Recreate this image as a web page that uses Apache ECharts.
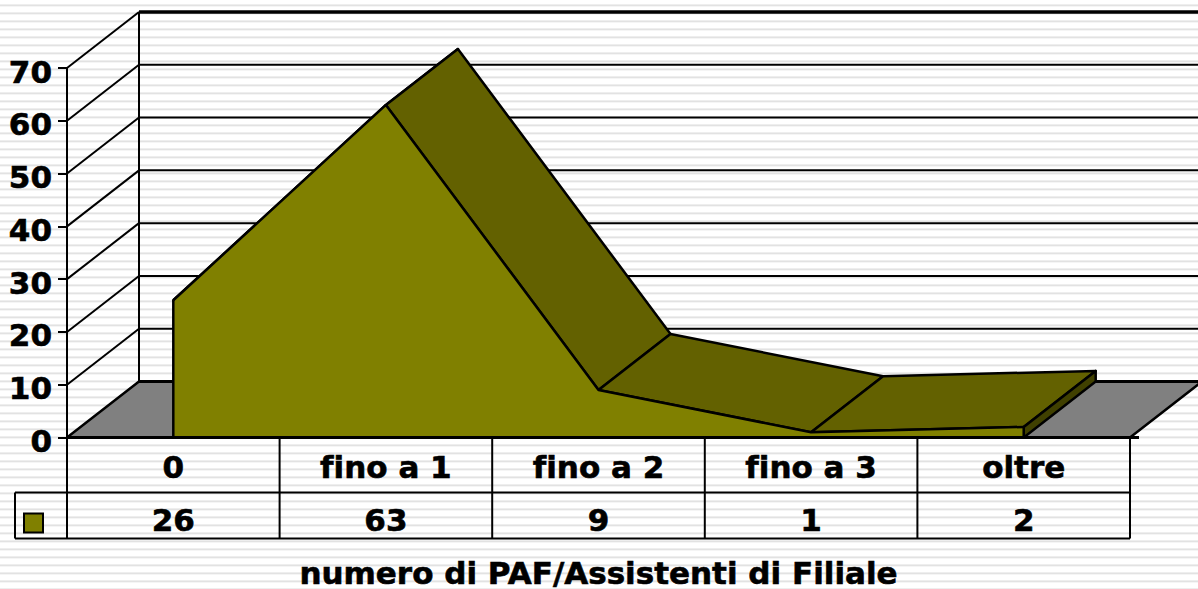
<!DOCTYPE html>
<html>
<head>
<meta charset="utf-8">
<title>numero di PAF/Assistenti di Filiale</title>
<style>
	html, body { margin: 0; padding: 0; width: 1198px; height: 589px; overflow: hidden; }
	/* sfondo a righe orizzontali */
	body { background: repeating-linear-gradient(to bottom, #fff 0, #fff 4px, #eee 4px, #eee 5px, #e2e2e2 5px, #e2e2e2 6px, #f5f5f5 6px, #f5f5f5 7px, #fff 7px, #fff 8px); }
	#chart { width: 1198px; height: 589px; }
	#chart text { font-variant-ligatures: none; }
</style>
<script src="https://cdn.jsdelivr.net/npm/echarts@6/dist/echarts.min.js"></script>
</head>
<body>
<div id="chart"></div>
<script>
var categories = ['0', 'fino a 1', 'fino a 2', 'fino a 3', 'oltre'];
var seriesValues = [26, 63, 9, 1, 2];
var yTicks = [0, 10, 20, 30, 40, 50, 60, 70];
var axisTitle = 'numero di PAF/Assistenti di Filiale';

var fontFamily = '"DejaVu Sans", Verdana, sans-serif';
var depthX = 72, depthY = -56;
var rowTop = 55, rowBottom = 101, legendLeft = 52;

// svg: i testi possono usare il css (niente legatura "fi")
var myChart = echarts.init(document.getElementById('chart'), null, { renderer: 'svg' });

var back = function(p){
	return [p[0] + depthX, p[1] + depthY];
};

var line = function(a, b, width){
	return {
		type: 'line',
		shape: { x1: a[0], y1: a[1], x2: b[0], y2: b[1] },
		style: { stroke: '#000', lineWidth: width || 2 }
	};
};

var poly = function(points, fill){
	return {
		type: 'polygon',
		shape: { points: points },
		style: { fill: fill, stroke: '#000', lineWidth: 2.5, lineJoin: 'round' }
	};
};

// pareti e pavimento dietro la serie
var renderWalls = function(params, api){
	var children = [];
	var band = api.size([1, 0])[0];
	var x0 = api.coord([0, 0])[0] - band / 2;
	var x1 = x0 + band * categories.length;
	var y0 = api.coord([0, 0])[1];
	children.push(poly([[x0, y0], back([x0, y0]), back([x1, y0]), [x1, y0]], '#808080'));
	yTicks.forEach(function(t){
		var y = api.coord([0, t])[1];
		if (t === 0) return;
		var w = t === yTicks[yTicks.length - 1] ? 3.5 : 2;
		children.push(line([x0, y], back([x0, y]), 2));
		children.push(line(back([x0, y]), [1198, y + depthY], w));
	});
	children.push(line(back([x0, y0]), back([x0, api.coord([0, yTicks[yTicks.length - 1]])[1]]), 2));
	children.push(line(back([x0, y0]), [1198, y0 + depthY], 3));
	return { type: 'group', children: children };
};

// fascia in profondita' tra un punto e il successivo
var renderDepth = function(params, api){
	var i = params.dataIndex;
	var p = api.coord([api.value(0), api.value(1)]);
	var children = [];
	if (i < seriesValues.length - 1) {
		var q = api.coord([i + 1, seriesValues[i + 1]]);
		children.push(poly([p, back(p), back(q), q], '#636100'));
	} else {
		var b = api.coord([i, 0]);
		children.push(poly([p, back(p), back(b), b], '#404000'));
	}
	return { type: 'group', children: children };
};

// bordi verticali del fronte
var renderEdges = function(params, api){
	var i = params.dataIndex;
	if (i !== 0 && i !== seriesValues.length - 1) return null;
	return line(api.coord([i, api.value(1)]), api.coord([i, 0]), 2.5);
};

// griglia della tabella dati e legenda
var renderTable = function(params, api){
	var children = [];
	var band = api.size([1, 0])[0];
	var x0 = api.coord([0, 0])[0] - band / 2;
	var x1 = x0 + band * categories.length;
	var y0 = api.coord([0, 0])[1];
	children.push(line([x0, y0], [x1 + 9, y0], 3));
	children.push(line([x0 - legendLeft, y0 + rowTop], [x1, y0 + rowTop], 2));
	children.push(line([x0 - legendLeft, y0 + rowBottom], [x1, y0 + rowBottom], 2));
	children.push(line([x0 - legendLeft, y0 + rowTop], [x0 - legendLeft, y0 + rowBottom], 2));
	for (var i = 0; i <= categories.length; i++) {
		children.push(line([x0 + band * i, y0], [x0 + band * i, y0 + rowBottom], 2));
	}
	children.push({
		type: 'rect',
		shape: { x: x0 - 43, y: y0 + 76, width: 19, height: 19 },
		style: { fill: '#808000', stroke: '#000', lineWidth: 2 }
	});
	return { type: 'group', children: children };
};

var pairs = seriesValues.map(function(v, i){ return [i, v]; });
var labelStyle = { color: '#000', fontFamily: fontFamily, fontWeight: 'bold', fontSize: 31, textBorderColor: '#000', textBorderWidth: 0.6 };

var option = {
	animation: false,
	backgroundColor: 'transparent',
	grid: { left: 67, right: 68, top: 68, bottom: 151.5, outerBoundsMode: 'none' },
	xAxis: [
		{
			type: 'category',
			data: categories,
			axisLine: { show: false },
			axisTick: { show: false },
			splitLine: { show: false },
			axisLabel: Object.assign({ margin: 14, interval: 0 }, labelStyle),
			name: axisTitle,
			nameLocation: 'middle',
			nameGap: 121,
			nameTextStyle: Object.assign({ lineHeight: 28 }, labelStyle)
		},
		{
			type: 'category',
			position: 'bottom',
			offset: 55,
			data: seriesValues.map(String),
			axisLine: { show: false },
			axisTick: { show: false },
			splitLine: { show: false },
			axisLabel: Object.assign({ margin: 12, interval: 0 }, labelStyle)
		}
	],
	yAxis: {
		type: 'value',
		min: 0,
		max: 70,
		interval: 10,
		splitLine: { show: false },
		axisLine: { show: true, lineStyle: { color: '#000', width: 2 } },
		axisTick: { show: true, length: 9, lineStyle: { color: '#000', width: 2 } },
		axisLabel: Object.assign({ margin: 15, verticalAlign: 'top', lineHeight: 7 }, labelStyle)
	},
	series: [
		{ type: 'custom', data: [[0, 0]], renderItem: renderWalls, clip: false, z: 1, silent: true },
		{ type: 'custom', data: pairs, renderItem: renderDepth, clip: false, z: 2, silent: true },
		{
			type: 'line',
			data: seriesValues,
			symbol: 'none',
			z: 3,
			lineStyle: { color: '#000', width: 2.5 },
			areaStyle: { color: '#808000', opacity: 1 }
		},
		{ type: 'custom', data: pairs, renderItem: renderEdges, clip: false, z: 4, silent: true },
		{ type: 'custom', data: [[0, 0]], renderItem: renderTable, clip: false, z: 5, silent: true }
	]
};

myChart.setOption(option);
</script>
</body>
</html>
